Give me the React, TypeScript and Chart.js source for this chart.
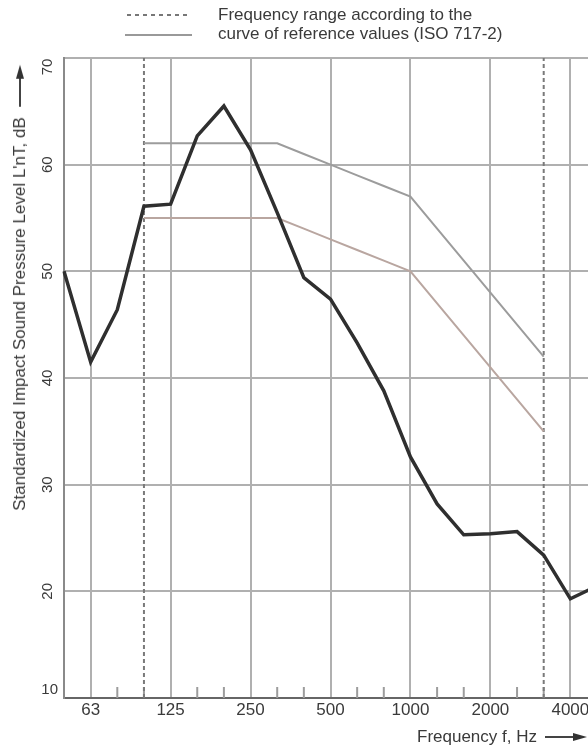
import React, { useEffect, useRef } from "react";
import { Chart, registerables } from "chart.js";

Chart.register(...registerables);

// Third-octave band centre frequencies (Hz)
const bands: string[] = [
  "50", "63", "80", "100", "125", "160", "200", "250", "315", "400", "500",
  "630", "800", "1000", "1250", "1600", "2000", "2500", "3150", "4000", "5000",
];
// Octave labels shown on the frequency axis
const octaveLabels: string[] = ["63", "125", "250", "500", "1000", "2000", "4000"];

// Measured standardized impact sound pressure level L'nT (dB)
const measured: number[] = [
  50.0, 41.5, 46.4, 56.1, 56.3, 62.7, 65.5, 61.4, 55.5, 49.4, 47.4,
  43.3, 38.8, 32.6, 28.2, 25.3, 25.4, 25.6, 23.4, 19.3, 20.5,
];

// Reference curve (ISO 717-2) frequency range
const refBands: string[] = [
  "100", "125", "160", "200", "250", "315", "400", "500",
  "630", "800", "1000", "1250", "1600", "2000", "2500", "3150",
];
const refUpper: number[] = [62, 62, 62, 62, 62, 62, 61, 60, 59, 58, 57, 54, 51, 48, 45, 42];
const refLower: number[] = [55, 55, 55, 55, 55, 55, 54, 53, 52, 51, 50, 47, 44, 41, 38, 35];

// Frequency-range limits (dotted verticals)
const rangeLimits: string[] = ["100", "3150"];

// Level axis
const yMin = 10;
const yMax = 70;
const yTickLabels: number[] = [10, 20, 30, 40, 50, 60, 70];

const legendLine1 = "Frequency range according to the";
const legendLine2 = "curve of reference values (ISO 717-2)";
const yTitle = "Standardized Impact Sound Pressure Level L'nT, dB";
const xTitle = "Frequency f, Hz";

const FONT = '"Liberation Sans", Arial, Helvetica, sans-serif';
const TEXT = "#3a3a3a";

const CANVAS_W = 640;
const CANVAS_H = 746;

const decorPlugin = {
  id: "decor",
  beforeDatasetsDraw(chart: any) {
    const { ctx, chartArea, scales } = chart;
    const x = scales.x;
    ctx.save();
    ctx.strokeStyle = "#9c9c9c";
    ctx.lineWidth = 2;
    bands.forEach((b, i) => {
      if (i === 0 || i === bands.length - 1) return;
      if (octaveLabels.includes(b)) return;
      const px = x.getPixelForValue(i);
      ctx.beginPath();
      ctx.moveTo(px, chartArea.bottom);
      ctx.lineTo(px, chartArea.bottom - 11);
      ctx.stroke();
    });
    ctx.restore();
  },
  afterDraw(chart: any) {
    const { ctx, chartArea, scales } = chart;
    const y = scales.y;
    ctx.save();
    ctx.fillStyle = TEXT;
    ctx.font = `15px ${FONT}`;
    ctx.textBaseline = "middle";
    yTickLabels.forEach((v) => {
      const py = y.getPixelForValue(v);
      if (v === yMin) {
        ctx.textAlign = "right";
        ctx.fillText(String(v), chartArea.left - 6, Math.min(py, chartArea.bottom - 8));
      } else {
        const cy = Math.max(py, chartArea.top + 9);
        ctx.save();
        ctx.translate(chartArea.left - 16, cy);
        ctx.rotate(-Math.PI / 2);
        ctx.textAlign = "center";
        ctx.fillText(String(v), 0, 0);
        ctx.restore();
      }
    });
    ctx.restore();
  },
};

function Arrow({ len }: { len: number }) {
  return (
    <span style={{ display: "inline-flex", alignItems: "center" }}>
      <span style={{ display: "inline-block", width: len, height: 2, background: "#444" }} />
      <span
        style={{
          display: "inline-block",
          width: 0,
          height: 0,
          borderLeft: "14px solid #333",
          borderTop: "4px solid transparent",
          borderBottom: "4px solid transparent",
        }}
      />
    </span>
  );
}

export default function App() {
  const canvasRef = useRef<HTMLCanvasElement | null>(null);

  useEffect(() => {
    const canvas = canvasRef.current;
    if (!canvas) return;

    const refData = (vals: number[]) =>
      bands.map((b) => {
        const k = refBands.indexOf(b);
        return k >= 0 ? vals[k] : null;
      });

    const limitSets = rangeLimits.map((f) => ({
      label: `limit ${f}`,
      data: [
        { x: f, y: yMin },
        { x: f, y: yMax },
      ],
      borderColor: "#7a7a7a",
      borderWidth: 2,
      borderDash: [4, 3],
      pointRadius: 0,
      fill: false,
    }));

    const chart = new Chart(canvas, {
      type: "line",
      data: {
        labels: bands,
        datasets: [
          {
            label: "L'nT",
            data: measured,
            borderColor: "#2f2f2f",
            borderWidth: 3.5,
            pointRadius: 0,
            tension: 0,
            fill: false,
          },
          {
            label: "Reference curve (shifted)",
            data: refData(refLower),
            borderColor: "#b9a6a0",
            borderWidth: 2,
            pointRadius: 0,
            spanGaps: false,
            fill: false,
          },
          {
            label: "Reference curve",
            data: refData(refUpper),
            borderColor: "#9c9c9c",
            borderWidth: 2,
            pointRadius: 0,
            spanGaps: false,
            fill: false,
          },
          ...limitSets,
        ] as any,
      },
      options: {
        animation: false,
        responsive: false,
        devicePixelRatio: 1,
        layout: { padding: { left: 64, top: 58, right: CANVAS_W - 597, bottom: 746 - 700 - 22.4 } },
        plugins: {
          legend: { display: false },
          tooltip: { enabled: false },
          title: { display: false },
        },
        scales: {
          x: {
            type: "category",
            offset: false,
            grid: {
              color: (c: any) =>
                c.index > 0 && octaveLabels.includes(bands[c.index]) ? "#b0b0b0" : "rgba(0,0,0,0)",
              lineWidth: 2,
              drawTicks: false,
            },
            border: { color: "#666666", width: 2 },
            ticks: {
              autoSkip: false,
              maxRotation: 0,
              minRotation: 0,
              padding: 2,
              color: TEXT,
              font: { size: 17, family: FONT },
              callback: (v: any) => (octaveLabels.includes(bands[v]) ? bands[v] : ""),
            },
          },
          y: {
            type: "linear",
            min: yMin,
            max: yMax,
            ticks: { display: false, stepSize: 10 },
            grid: { color: "#b0b0b0", lineWidth: 2, drawTicks: false },
            border: { color: "#8a8a8a", width: 2 },
          },
        },
      } as any,
      plugins: [decorPlugin],
    });
    return () => chart.destroy();
  }, []);

  return (
    <div
      style={{
        position: "fixed",
        left: 0,
        top: 0,
        width: 588,
        height: 746,
        overflow: "hidden",
        background: "#fff",
        fontFamily: FONT,
        color: TEXT,
      }}
    >
      <canvas
        ref={canvasRef}
        width={CANVAS_W}
        height={CANVAS_H}
        style={{ position: "absolute", left: 0, top: 0, width: CANVAS_W, height: CANVAS_H }}
      />
      {/* legend */}
      <div
        style={{
          position: "absolute",
          left: 127,
          top: 14,
          width: 60,
          height: 2,
          background: "repeating-linear-gradient(to right, #777 0 4px, transparent 4px 8px)",
        }}
      />
      <div style={{ position: "absolute", left: 125, top: 34, width: 67, height: 2, background: "#999" }} />
      <div
        style={{
          position: "absolute",
          left: 218,
          top: 5,
          fontSize: 17,
          lineHeight: "19px",
          whiteSpace: "nowrap",
        }}
      >
        <div>{legendLine1}</div>
        <div>{legendLine2}</div>
      </div>
      {/* y-axis title */}
      <div
        style={{
          position: "absolute",
          left: 20,
          top: 288,
          transform: "translate(-50%, -50%) rotate(-90deg)",
          whiteSpace: "nowrap",
          fontSize: 17,
          lineHeight: "20px",
          display: "flex",
          alignItems: "center",
          gap: 10,
        }}
      >
        <span>{yTitle}</span>
        <Arrow len={28} />
      </div>
      {/* x-axis title */}
      <div
        style={{
          position: "absolute",
          left: 417,
          top: 727,
          whiteSpace: "nowrap",
          fontSize: 17,
          lineHeight: "20px",
          display: "flex",
          alignItems: "center",
          gap: 8,
        }}
      >
        <span>{xTitle}</span>
        <Arrow len={28} />
      </div>
    </div>
  );
}
